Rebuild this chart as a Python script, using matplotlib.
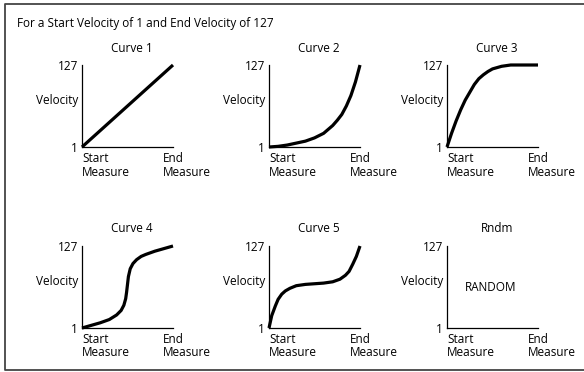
import matplotlib.pyplot as plt
from matplotlib.lines import Line2D

plt.rcParams['font.family'] = ['Open Sans', 'DejaVu Sans']

# Velocity curves, read as (position 0..1 from start to end measure, velocity 1..127)
curve1_x = [0.0, 1.0]
curve1_v = [1, 127]

curve2_x = [0.0, 0.1, 0.2, 0.3, 0.4, 0.5, 0.6, 0.7, 0.75, 0.8, 0.85, 0.9, 0.95, 1.0]
curve2_v = [1, 2, 4, 7, 10, 15, 22, 34, 42, 51, 64, 80, 101, 127]

curve3_x = [0.0, 0.05, 0.1, 0.15, 0.2, 0.25, 0.3, 0.35, 0.4, 0.45, 0.5, 0.6, 0.7, 0.8, 1.0]
curve3_v = [1, 22, 41, 58, 73, 85, 97, 106, 112, 117, 121, 125, 127, 127, 127]

curve4_x = [0.0, 0.1, 0.2, 0.3, 0.38, 0.43, 0.46, 0.48, 0.49, 0.5, 0.51, 0.53, 0.56, 0.6, 0.65, 0.7, 0.8, 0.9, 1.0]
curve4_v = [1, 5, 9, 14, 21, 28, 36, 46, 56, 68, 80, 92, 100, 106, 111, 114, 119, 123, 127]

curve5_x = [0.0, 0.03, 0.07, 0.1, 0.14, 0.18, 0.23, 0.3, 0.4, 0.5, 0.6, 0.7, 0.78, 0.84, 0.88, 0.92, 0.96, 1.0]
curve5_v = [1, 20, 35, 45, 53, 58, 62, 66, 68, 69, 70, 72, 76, 82, 88, 99, 111, 127]

titles = ['Curve 1', 'Curve 2', 'Curve 3', 'Curve 4', 'Curve 5', 'Rndm']
curves = [(curve1_x, curve1_v), (curve2_x, curve2_v), (curve3_x, curve3_v),
          (curve4_x, curve4_v), (curve5_x, curve5_v), None]

W, H = 584, 372
FS = 8.5
fig = plt.figure(figsize=(W / 100, H / 100), dpi=100)
fig.patch.set_facecolor('white')

# outer frame: left, top and bottom edges (right edge runs off the page)
x0, x1 = 5 / W, 1.0
y0, y1 = 2 / H, 1 - 4 / H
fig.add_artist(Line2D([x1, x0, x0, x1], [y1, y1, y0, y0], transform=fig.transFigure,
                      color='#444444', linewidth=1.3))

fig.text(17 / W, 1 - 23 / H, 'For a Start Velocity of 1 and End Velocity of 127',
         ha='left', va='center', fontsize=FS)

lefts = [82, 269, 447]
bottoms = [147, 328]
aw, ah = 91, 82

for i, title in enumerate(titles):
    row, col = divmod(i, 3)
    ax = fig.add_axes([lefts[col] / W, 1 - bottoms[row] / H, aw / W, ah / H])
    ax.set_xlim(0, 1)
    ax.set_ylim(1, 127)
    for side in ['top', 'right']:
        ax.spines[side].set_visible(False)
    for side in ['left', 'bottom']:
        ax.spines[side].set_linewidth(0.9)
        ax.spines[side].set_color('black')
    ax.set_xticks([])
    ax.set_yticks([1, 127])
    ax.set_yticklabels(['1', '127'])
    ax.tick_params(axis='y', length=0, pad=3, labelsize=FS)

    ax.text(0.55, 1 + 17 / ah, title, transform=ax.transAxes,
            ha='center', va='center', fontsize=FS)
    ax.text(-4 / aw, 0.57, 'Velocity', transform=ax.transAxes,
            ha='right', va='center', fontsize=FS)
    ax.text(0.0, -5 / ah, 'Start\nMeasure', transform=ax.transAxes,
            ha='left', va='top', fontsize=FS, linespacing=1.05)
    ax.text(0.89, -5 / ah, 'End\nMeasure', transform=ax.transAxes,
            ha='left', va='top', fontsize=FS, linespacing=1.05)

    if curves[i] is not None:
        x, v = curves[i]
        ax.plot(x, v, color='black', linewidth=2.3, clip_on=False,
                solid_capstyle='butt', solid_joinstyle='round')
    else:
        ax.text(0.48, 0.49, 'RANDOM', transform=ax.transAxes,
                ha='center', va='center', fontsize=FS)

fig.savefig('out.png', dpi=100, facecolor='white')
